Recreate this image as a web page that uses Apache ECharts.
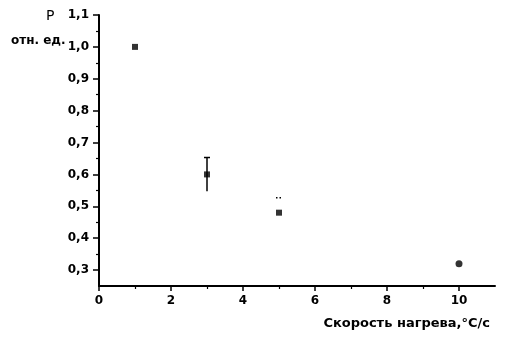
<!DOCTYPE html>
<html>
<head>
<meta charset="utf-8">
<script src="https://cdn.jsdelivr.net/npm/echarts@6/dist/echarts.min.js"></script>
<style>html,body{margin:0;padding:0;background:#fff}#c{width:505px;height:346px}</style>
</head>
<body>
<div id="c"></div>
<script>
// Data
const heatRate = [1, 3, 5, 10];
const pValues = [1.0, 0.6, 0.48, 0.32];
const errLow = [null, 0.547, null, null];
const errHigh = [null, 0.653, 0.527, null];
const xMajorTicks = [0, 2, 4, 6, 8, 10];
const xMinorTicks = [1, 3, 5, 7, 9];
const yMajorTicks = [0.3, 0.4, 0.5, 0.6, 0.7, 0.8, 0.9, 1.0, 1.1];
const yMinorTicks = [0.35, 0.45, 0.55, 0.65, 0.75, 0.85, 0.95, 1.05];
const xTitle = 'Скорость нагрева,°С/с';
const yTitle = 'P';
const yUnit = 'отн. ед.';

const yFmt = v => (Math.round(v * 10) / 10).toFixed(1).replace('.', ',');
const xFmt = v => String(Math.round(v));

const font = 'DejaVu Sans';
const chart = echarts.init(document.getElementById('c'), null, {renderer: 'canvas'});
const axisLine = {show: true, lineStyle: {color: '#000', width: 2}};
const grid = {left: 99, top: 15, right: 10, bottom: 60};

chart.setOption({
  animation: false,
  backgroundColor: '#fff',
  grid: grid,
  xAxis: [
    {
      type: 'value', min: 0, max: 11, position: 'bottom',
      axisLine: axisLine,
      splitLine: {show: false},
      axisTick: {show: true, customValues: xMajorTicks, length: 5, inside: false, lineStyle: {color: '#000', width: 1.5}},
      axisLabel: {customValues: xMajorTicks, formatter: xFmt, color: '#000', fontFamily: font, fontWeight: 'bold', fontSize: 12, margin: 9}
    },
    {
      type: 'value', min: 0, max: 11, position: 'bottom',
      axisLine: {show: false},
      splitLine: {show: false},
      axisTick: {show: true, customValues: xMinorTicks, length: 3, inside: false, lineStyle: {color: '#000', width: 1.2}},
      axisLabel: {show: false}
    }
  ],
  yAxis: [
    {
      type: 'value', min: 0.25, max: 1.1, position: 'left',
      axisLine: axisLine,
      splitLine: {show: false},
      axisTick: {show: true, customValues: yMajorTicks, length: 6, inside: false, lineStyle: {color: '#000', width: 1.5}},
      axisLabel: {customValues: yMajorTicks, formatter: yFmt, color: '#000', fontFamily: font, fontWeight: 'bold', fontSize: 12, margin: 10}
    },
    {
      type: 'value', min: 0.25, max: 1.1, position: 'left',
      axisLine: {show: false},
      splitLine: {show: false},
      axisTick: {show: true, customValues: yMinorTicks, length: 3, inside: false, lineStyle: {color: '#000', width: 1.2}},
      axisLabel: {show: false}
    }
  ],
  graphic: [
    {type: 'text', left: 46, top: 9, style: {text: yTitle, fontFamily: font, fontSize: 14, fill: '#000'}},
    {type: 'text', left: 11, top: 35, style: {text: yUnit, fontFamily: font, fontWeight: 'bold', fontSize: 12, fill: '#000'}},
    {type: 'text', right: 15, top: 317, style: {text: xTitle, fontFamily: font, fontWeight: 'bold', fontSize: 13, fill: '#000'}}
  ],
  series: [
    {
      type: 'custom',
      xAxisIndex: 0, yAxisIndex: 0,
      data: heatRate.map((x, i) => [x, errLow[i], errHigh[i]]),
      renderItem: function (params, api) {
        const x = api.value(0);
        const lo = api.value(1);
        const hi = api.value(2);
        const children = [];
        if (hi == null || isNaN(hi)) return null;
        const pHi = api.coord([x, hi]);
        if (lo != null && !isNaN(lo)) {
          const pLo = api.coord([x, lo]);
          children.push({type: 'line', shape: {x1: pLo[0], y1: pLo[1], x2: pHi[0], y2: pHi[1]}, style: {stroke: '#000', lineWidth: 1.5}});
          children.push({type: 'line', shape: {x1: pHi[0] - 3, y1: pHi[1], x2: pHi[0] + 3, y2: pHi[1]}, style: {stroke: '#000', lineWidth: 1.5}});
        } else {
          children.push({type: 'line', shape: {x1: pHi[0] - 3, y1: pHi[1], x2: pHi[0] + 3, y2: pHi[1]}, style: {stroke: '#000', lineWidth: 1.5, lineDash: [1.5, 2]}});
        }
        return {type: 'group', children: children};
      },
      z: 2
    },
    {
      type: 'scatter',
      xAxisIndex: 0, yAxisIndex: 0,
      data: heatRate.map((x, i) => [x, pValues[i]]),
      symbol: (v, p) => p.dataIndex === 3 ? 'circle' : 'rect',
      symbolSize: (v, p) => p.dataIndex === 3 ? 7 : 6,
      itemStyle: {color: '#000'},
      z: 3
    }
  ]
});
</script>
</body>
</html>
